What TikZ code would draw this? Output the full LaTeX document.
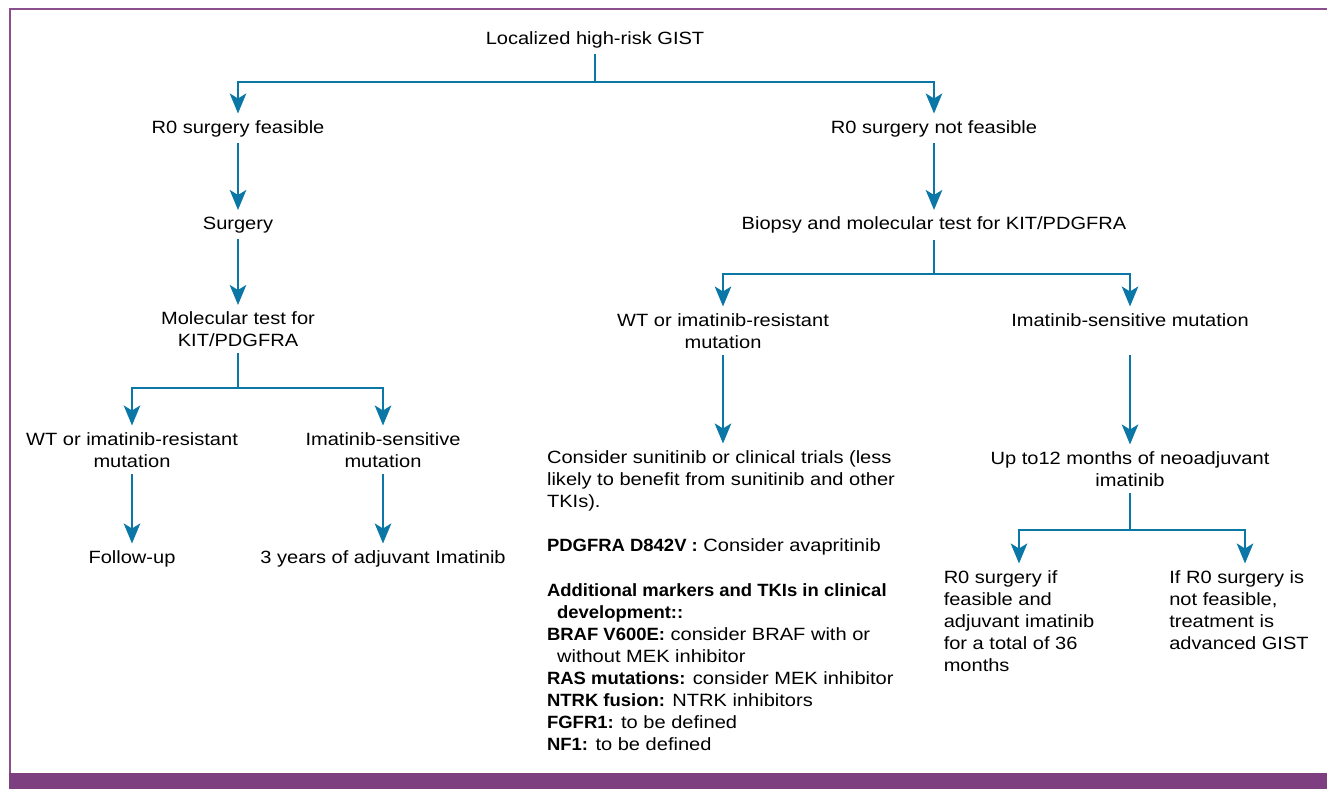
\documentclass[tikz,border=0pt]{standalone}
\usepackage{fontspec}
\setmainfont{Liberation Sans}[FakeStretch=1.13, BoldFeatures={FakeStretch=1.04}]
\usetikzlibrary{arrows.meta}
\definecolor{flowblue}{HTML}{0B77A6}
\definecolor{framepurple}{HTML}{8B4E8E}
\definecolor{barpurple}{HTML}{7D3F80}
\begin{document}
\begin{tikzpicture}[%
  txt/.style = {inner xsep = 0pt, inner ysep = 6.5pt, align = center, anchor = north,
    font = \fontsize{17.75}{22}\selectfont},
  note/.style = {txt, align = left},
  arr/.style = {-{Stealth[length = 20pt, width = 16.5pt, inset = 5pt]}, line width = 2.4pt, draw = flowblue},
  link/.style = {line width = 2.4pt, draw = flowblue},
  x = 1pt, y = -1pt]
  \useasboundingbox (0, 0) rectangle (1327, 789);
  \draw[framepurple, line width = 2pt] (9.5, 789) |- (1327, 9.5);
  \fill[barpurple] (8.5, 773) rectangle (1327, 789);

  \node[txt] (gist)  at (595, 24.5) {Localized high-risk GIST};
  \node[txt] (feas)  at (238, 113.5) {R0 surgery feasible};
  \node[txt] (nfeas) at (934, 113.5) {R0 surgery not feasible};

  \node[txt] (surg)  at (238, 210) {Surgery};
  \node[txt] (molL)  at (238, 305) {Molecular test for\\KIT/PDGFRA};
  \node[txt] (wtL)   at (132, 425.5) {WT or imatinib-resistant\\mutation};
  \node[txt] (senL)  at (383, 425.5) {Imatinib-sensitive\\mutation};
  \node[txt] (fup)   at (132, 543.5) {Follow-up};
  \node[txt] (adj)   at (383, 543.5) {3 years of adjuvant Imatinib};

  \node[txt] (biop)  at (934, 210) {Biopsy and molecular test for KIT/PDGFRA};
  \node[txt] (wtR)   at (723, 306.5) {WT or imatinib-resistant\\mutation};
  \node[txt] (senR)  at (1130, 306.5) {Imatinib-sensitive mutation};
  \node[note] (suni) at (721, 443.5) {Consider sunitinib or clinical trials (less\\
    likely to benefit from sunitinib and other\\TKIs).\\[22pt]
    \textbf{PDGFRA D842V :} Consider avapritinib\\[23pt]
    \textbf{Additional markers and TKIs in clinical}\\
    \hspace*{10pt}\textbf{development::}\\
    \textbf{BRAF V600E:} consider BRAF with or\\
    \hspace*{10pt}without MEK inhibitor\\
    \textbf{RAS mutations:} consider MEK inhibitor\\
    \textbf{NTRK fusion:} NTRK inhibitors\\
    \textbf{FGFR1:} to be defined\\
    \textbf{NF1:} to be defined};
  \node[txt] (neo)    at (1130, 444.5) {Up to12 months of neoadjuvant\\imatinib};
  \node[note] (surgif) at (1019, 563.5) {R0 surgery if\\feasible and\\adjuvant imatinib\\for a total of 36\\months};
  \node[note] (nosurg) at (1239, 563.5) {If R0 surgery is\\not feasible,\\treatment is\\advanced GIST};

  % forks
  \coordinate (top)   at (595, 82);
  \coordinate (forkL) at (238, 388);
  \coordinate (forkR) at (934, 274);
  \coordinate (forkN) at (1130, 530);

  \draw[link] (gist) -- (top);
  \draw[arr] (top) -| (feas);
  \draw[arr] (top) -| (nfeas);
  \draw[arr] (feas) -- (surg);
  \draw[arr] (surg) -- (molL);
  \draw[link] (molL) -- (forkL);
  \draw[arr] (forkL) -| (wtL);
  \draw[arr] (forkL) -| (senL);
  \draw[arr] (wtL) -- (fup);
  \draw[arr] (senL) -- (adj);

  \draw[arr] (nfeas) -- (biop);
  \draw[link] (biop) -- (forkR);
  \draw[arr] (forkR) -| (wtR);
  \draw[arr] (forkR) -| (senR);
  \draw[arr] (wtR) -- (wtR |- suni.north);
  \draw[arr] ([yshift = -22pt]senR.south) -- (neo);
  \draw[link] (neo) -- (forkN);
  \draw[arr] (forkN) -| (surgif);
  \draw[arr] (forkN) -| ([xshift = 6pt]nosurg.north);
\end{tikzpicture}
\end{document}
